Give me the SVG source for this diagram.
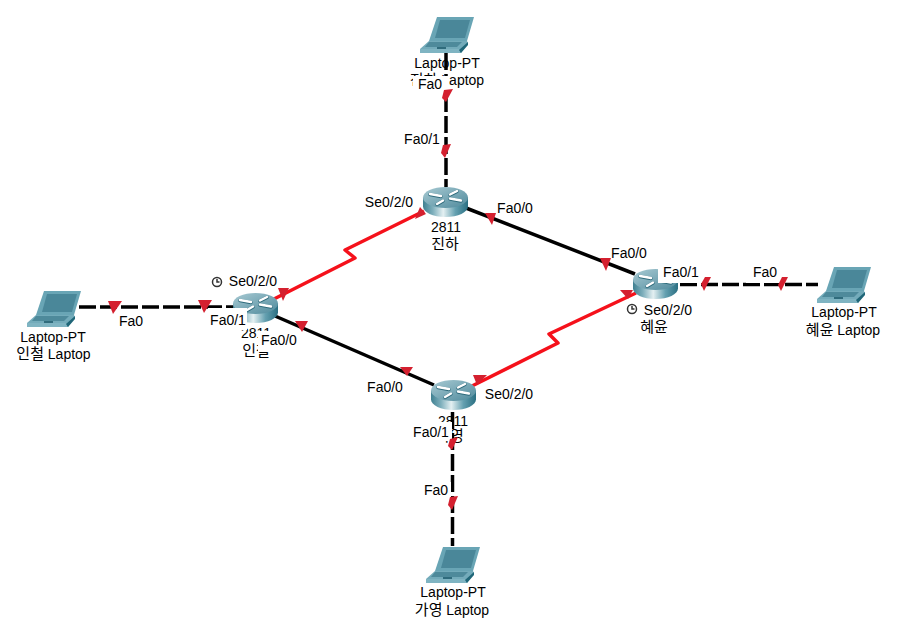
<svg xmlns="http://www.w3.org/2000/svg" width="915" height="642" viewBox="0 0 915 642">
<style>
text{font-family:"Liberation Sans","Noto Sans CJK KR",sans-serif;font-size:14px;fill:#000;text-anchor:middle}
.k{font-size:15px}
.c{fill:none;stroke:#000;stroke-width:3.5}
.d{fill:none;stroke:#000;stroke-width:3.5;stroke-dasharray:17 4}
.s{fill:none;stroke:#f5111b;stroke-width:3.5;stroke-linejoin:round}
.t{fill:#d4202f}
.b{fill:#fff}
.a{fill:none;stroke:#fff;stroke-width:2.4;stroke-linecap:round}
.o{fill:none;stroke:#2f6b7c;stroke-width:3.400;stroke-linecap:round}
.w{fill:none;stroke:#333;stroke-width:1.500}
</style>
<defs>
<linearGradient id="g" x1="0" x2="1" y1="0" y2="0">
<stop offset="0" stop-color="#3f8091"/><stop offset=".22" stop-color="#7eafbc"/><stop offset=".45" stop-color="#e4f0f2"/><stop offset=".72" stop-color="#64a0b0"/><stop offset="1" stop-color="#2a6f82"/>
</linearGradient>
<linearGradient id="top" x1="0" x2="1" y1="0" y2="1">
<stop offset="0" stop-color="#a8cad3"/><stop offset="1" stop-color="#4f8a9c"/>
</linearGradient>
<g id="router">
<path d="M0 10.500V19.500C0 25.300 10 30 22.500 30S45 25.300 45 19.500V10.500Z" fill="url(#g)"/>
<ellipse cx="22.500" cy="10.500" rx="22.500" ry="10.500" fill="url(#top)"/>
<path class="o" d="M7 7.500L18 9.500M38 14L27 12M34 4.500L27 8M14 17.500L20 14"/>
<path class="a" d="M7 7L18 9M38 13.500L27 11.500M34 4L27 7.500M14 17L20 13.500"/>
</g>
<g id="laptop">
<path d="M17 1H54L47 25H9Z" fill="#69a5b5"/>
<path d="M20 4H50L45 22H15Z" fill="#4a8799"/>
<path d="M9 25H47L48 27 41 37H0V33Z" fill="#73abba"/>
<path d="M9 26H42L37 31H5Z" fill="#4e8a9b"/>
<path d="M0 33H39L41 37H0Z" fill="#7fb4c2"/>
<path d="M39 34L48 26 48 29 41 37Z" fill="#1f6678"/>
<path d="M17 32H26" stroke="#2f6b7c" stroke-width="2"/>
</g>
</defs>
<g id="connectors">
<path class="d" d="M446 53V187"/>
<path class="d" d="M79 307H238"/>
<path class="d" d="M680 284.500H818"/>
<path class="d" d="M452.500 412V546"/>
<path class="c" d="M466 208L635 274"/>
<path class="c" d="M275 316L434 385"/>
<path class="s" d="M272 300L355 258 345 250 424 211"/>
<path class="s" d="M470 387L558 343 549 334 636 293"/>
</g>
<g id="laptop-top"><use href="#laptop" x="420" y="16"/><text x="447" y="68">Laptop-PT</text><text x="447" y="85"><tspan class="k">진하</tspan> Laptop</text></g>
<g id="laptop-left"><use href="#laptop" x="27" y="290"/><text x="53" y="342">Laptop-PT</text><text x="53.500" y="359"><tspan class="k">인철</tspan> Laptop</text></g>
<g id="laptop-right"><use href="#laptop" x="817" y="266"/><text x="844" y="317">Laptop-PT</text><text x="843" y="335"><tspan class="k">혜윤</tspan> Laptop</text></g>
<g id="laptop-bottom"><use href="#laptop" x="426" y="546"/><text x="453" y="597">Laptop-PT</text><text x="452" y="615"><tspan class="k">가영</tspan> Laptop</text></g>
<g id="router-jinha"><use href="#router" x="423" y="187"/><text x="446" y="232">2811</text><text class="k" x="445" y="249">진하</text></g>
<g id="router-incheol"><use href="#router" x="233" y="293"/><text x="256" y="338">2811</text><text class="k" x="256" y="356">인철</text></g>
<g id="router-hyeyun"><use href="#router" x="633" y="269"/><text class="k" x="654" y="332">혜윤</text></g>
<g id="router-gayeong"><use href="#router" x="431" y="380"/><text x="453" y="426">2811</text><text class="k" x="450" y="441">가영</text></g>
<g id="port-labels">
<rect class="b" x="413" y="76" width="36" height="17"/><text x="430" y="89">Fa0</text>
<rect class="b" x="402" y="130" width="41" height="17"/><text x="422" y="144">Fa0/1</text>
<rect class="b" x="362" y="193" width="52" height="17"/><text x="389" y="207">Se0/2/0</text>
<rect class="b" x="494" y="199" width="41" height="17"/><text x="515" y="213">Fa0/0</text>
<rect class="b" x="609" y="244" width="41" height="17"/><text x="629" y="258">Fa0/0</text>
<rect class="b" x="658" y="263" width="44" height="20"/><text x="681" y="277">Fa0/1</text>
<rect class="b" x="746" y="264" width="36" height="19"/><text x="765" y="277">Fa0</text>
<rect class="b" x="641" y="302" width="54" height="15"/><text x="668" y="315">Se0/2/0</text>
<rect class="b" x="225" y="273" width="55" height="16"/><text x="253" y="286">Se0/2/0</text>
<rect class="b" x="116" y="313" width="31" height="16"/><text x="131" y="326">Fa0</text>
<rect class="b" x="208" y="308" width="39" height="22"/><text x="228" y="325">Fa0/1</text>
<rect class="b" x="258" y="331" width="42" height="21"/><text x="279" y="345">Fa0/0</text>
<rect class="b" x="364" y="378" width="41" height="17"/><text x="385" y="392">Fa0/0</text>
<rect class="b" x="483" y="386" width="52" height="16"/><text x="509" y="399">Se0/2/0</text>
<rect class="b" x="411" y="422" width="41" height="19"/><text x="431" y="437">Fa0/1</text>
<rect class="b" x="421" y="482" width="30" height="16"/><text x="436" y="495">Fa0</text>
<circle class="w" cx="217" cy="282" r="4.500"/><path class="w" d="M217 279V282H219.500"/>
<circle class="w" cx="632" cy="309" r="4.500"/><path class="w" d="M632 306V309H634.500"/>
</g>
<g id="link-markers">
<path class="t" d="M444 90L453 89 446 102 442 98Z"/>
<path class="t" d="M443 145L451 144 445 158 441 153Z"/>
<path class="t" d="M108 301H122L113 314Z"/>
<path class="t" d="M198 300H212L204 313Z"/>
<path class="t" d="M701 284L705 277 711 277 704 291Z"/>
<path class="t" d="M778 285L782 277 788 277 781 291Z"/>
<path class="t" d="M450 439L458 437 452 450 448 446Z"/>
<path class="t" d="M450 497L458 496 452 510 448 505Z"/>
<path class="t" d="M485 213H496L492 225Z"/>
<path class="t" d="M600 258H611L606 271Z"/>
<path class="t" d="M295 321H308L302 332Z"/>
<path class="t" d="M400 367H413L407 376Z"/>
<path class="t" d="M278 288H289L283 301Z"/>
<path class="t" d="M420 207L426 214 415 219Z"/>
<path class="t" d="M473 375H487L477 385Z"/>
<path class="t" d="M620 290H633L628 299Z"/>
</g>
</svg>
